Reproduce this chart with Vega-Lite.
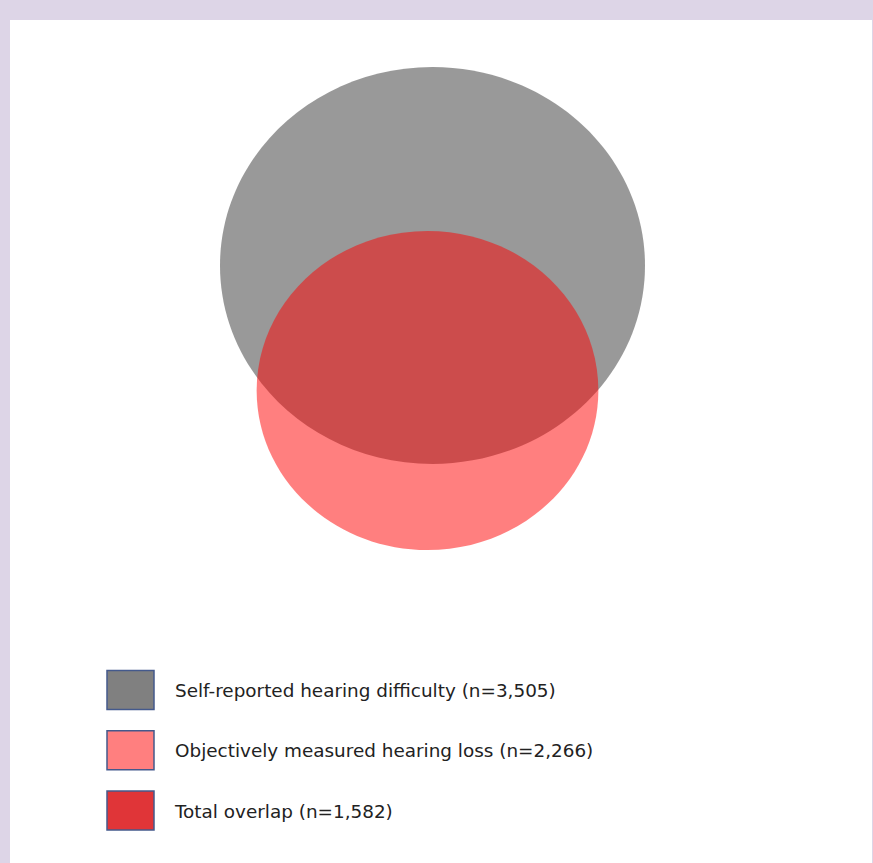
{
  "$schema": "https://vega.github.io/schema/vega-lite/v6.json",
  "width": 873,
  "height": 863,
  "autosize": {"type": "fit", "contains": "padding"},
  "padding": {"left": 10, "top": 20, "right": 1, "bottom": 0},
  "background": "#DDD5E7",
  "config": {"view": {"fill": "white", "stroke": null}},
  "datasets": {
    "sets": [
      {"set": "Self-reported hearing difficulty", "n": 3505, "cx": 422.5, "cy": 245.5},
      {"set": "Objectively measured hearing loss", "n": 2266, "cx": 417.5, "cy": 370.5}
    ],
    "legend": [
      {"row": 1, "key": "Self-reported hearing difficulty", "label": "Self-reported hearing difficulty (n=3,505)"},
      {"row": 2, "key": "Objectively measured hearing loss", "label": "Objectively measured hearing loss (n=2,266)"},
      {"row": 3, "key": "Total overlap", "label": "Total overlap (n=1,582)"}
    ]
  },
  "layer": [
    {
      "data": {"name": "sets"},
      "mark": {"type": "point", "filled": true, "shape": "M-1,0A1,0.934 0 1,0 1,0A1,0.934 0 1,0 -1,0Z", "strokeWidth": 0},
      "encoding": {
        "x": {"field": "cx", "type": "quantitative", "scale": {"domain": [0, 862], "nice": false, "zero": false}, "axis": null},
        "y": {"field": "cy", "type": "quantitative", "scale": {"domain": [0, 843], "nice": false, "zero": false, "reverse": true}, "axis": null},
        "size": {"field": "n", "type": "quantitative", "scale": {"domain": [0, 3505], "range": [0, 180625]}, "legend": null},
        "fill": {"field": "set", "type": "nominal", "scale": {"domain": ["Self-reported hearing difficulty", "Objectively measured hearing loss"], "range": ["#808080", "#FF0000"]}, "legend": null},
        "opacity": {"field": "set", "type": "nominal", "scale": {"domain": ["Self-reported hearing difficulty", "Objectively measured hearing loss"], "range": [0.8, 0.5]}, "legend": null},
        "order": {"field": "n", "sort": "descending"}
      }
    },
    {
      "data": {"name": "legend"},
      "encoding": {
        "y": {"field": "row", "type": "ordinal", "scale": {"type": "point", "domain": [1, 2, 3], "range": [670, 790.5], "padding": 0}, "axis": null}
      },
      "layer": [
        {
          "mark": {"type": "point", "filled": true, "shape": "M-1,-0.83H1V0.83H-1Z", "size": 2209, "stroke": "#44598C", "strokeWidth": 1.5, "opacity": 1},
          "encoding": {
            "x": {"datum": 120.5, "type": "quantitative"},
            "color": {"field": "key", "type": "nominal", "scale": {"domain": ["Self-reported hearing difficulty", "Objectively measured hearing loss", "Total overlap"], "range": ["#808080", "#FF7F7F", "#E03538"]}, "legend": null}
          }
        },
        {
          "mark": {"type": "text", "align": "left", "baseline": "middle", "font": "DejaVu Sans", "fontSize": 18.4, "dy": 1, "color": "#222222"},
          "encoding": {
            "x": {"datum": 165, "type": "quantitative"},
            "text": {"field": "label", "type": "nominal"}
          }
        }
      ]
    }
  ],
  "resolve": {"scale": {"y": "independent"}}
}
